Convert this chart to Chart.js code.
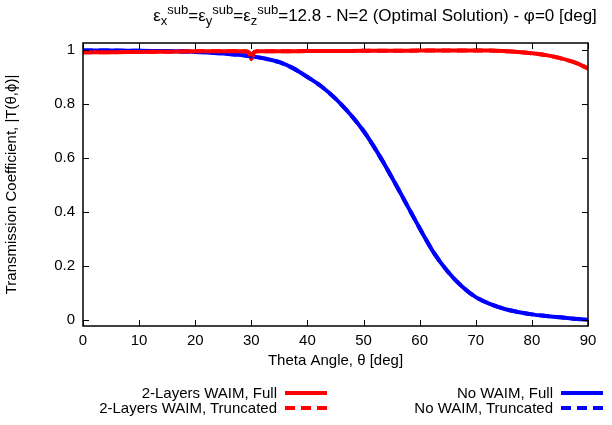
<!DOCTYPE html>
<html>
<head>
<meta charset="utf-8">
<script src="https://cdn.jsdelivr.net/npm/chart.js@4"></script>
<style>
    body { margin: 0; background: #fff; font-family: "Liberation Sans", Arial, sans-serif; }
    #wrap { position: relative; width: 612px; height: 425px; }
    #title { position: absolute; top: 2px; left: 0; width: 750px; text-align: center; font-size: 17px; color: #000; white-space: nowrap; }
    #title sub, #title sup { font-size: 13px; }
    .leg { position: absolute; font-size: 15px; color: #000; white-space: nowrap; text-align: right; }
</style>
</head>
<body>
<div id="wrap">
    <canvas id="chart" width="612" height="425"></canvas>
    <div id="title">&epsilon;<sub>x</sub><sup>sub</sup>=&epsilon;<sub>y</sub><sup>sub</sup>=&epsilon;<sub>z</sub><sup>sub</sup>=12.8 - N=2 (Optimal Solution) - &phi;=0 [deg]</div>
    <div id="legend"></div>
</div>
<script>
// theta values (deg) and |T|
const redTheta  = [0, 5, 10, 15, 20, 25, 29, 29.6, 30, 30.4, 31, 35, 40, 45, 50, 55, 60, 65, 70, 72.5, 75, 77.5, 80, 82.5, 85, 87.5, 90];
const redValues = [0.992, 0.992, 0.993, 0.994, 0.995, 0.995, 0.995, 0.99, 0.966, 0.99, 0.995, 0.995, 0.996, 0.996, 0.997, 0.997, 0.998, 0.998, 0.998, 0.998, 0.996, 0.993, 0.988, 0.981, 0.97, 0.955, 0.932];

const blueTheta  = [0, 5, 10, 15, 20, 25, 30, 32.5, 35, 37.5, 40, 42.5, 45, 47.5, 50, 52.5, 55, 57.5, 60, 62.5, 65, 67.5, 70, 72.5, 75, 77.5, 80, 82.5, 85, 87.5, 90];
const blueValues = [0.998, 0.998, 0.997, 0.996, 0.993, 0.987, 0.977, 0.968, 0.955, 0.932, 0.9, 0.865, 0.82, 0.765, 0.7, 0.62, 0.53, 0.435, 0.34, 0.25, 0.18, 0.125, 0.085, 0.06, 0.042, 0.03, 0.021, 0.015, 0.01, 0.005, 0.001];

const xTicks = [0, 10, 20, 30, 40, 50, 60, 70, 80, 90];
const yTicks = [0, 0.2, 0.4, 0.6, 0.8, 1];

const legendNames = ['2-Layers WAIM, Full', '2-Layers WAIM, Truncated', 'No WAIM, Full', 'No WAIM, Truncated'];

function toPoints(xs, ys) {
    return xs.map((x, i) => ({ x: x, y: ys[i] }));
}

// inward ticks on all four sides + frame, like gnuplot
const framePlugin = {
    id: 'frame',
    afterDatasetsDraw(chart) {
        const { ctx, chartArea: a, scales } = chart;
        ctx.save();
        ctx.strokeStyle = '#000';
        ctx.lineWidth = 1;
        ctx.beginPath();
        xTicks.forEach(v => {
            const px = Math.round(scales.x.getPixelForValue(v)) + 0.5;
            ctx.moveTo(px, a.bottom); ctx.lineTo(px, a.bottom - 6);
            ctx.moveTo(px, a.top); ctx.lineTo(px, a.top + 6);
        });
        yTicks.forEach(v => {
            const py = Math.round(scales.y.getPixelForValue(v)) + 0.5;
            ctx.moveTo(a.left, py); ctx.lineTo(a.left + 6, py);
            ctx.moveTo(a.right, py); ctx.lineTo(a.right - 6, py);
        });
        ctx.stroke();
        ctx.lineWidth = 1.5;
        ctx.strokeRect(a.left, a.top, a.right - a.left, a.bottom - a.top);
        ctx.restore();
    }
};

const ds = (label, xs, ys, color, dash) => ({
    label: label,
    data: toPoints(xs, ys),
    borderColor: color,
    borderWidth: 4,
    borderDash: dash,
    pointRadius: 0,
    fill: false,
    tension: 0.3
});

const axisFont = { family: 'Liberation Sans', size: 15 };

new Chart(document.getElementById('chart'), {
    type: 'line',
    data: {
        datasets: [
            ds(legendNames[1], redTheta, redValues, '#ff0000', [10, 6]),
            ds(legendNames[3], blueTheta, blueValues, '#0000ff', [10, 6]),
            ds(legendNames[0], redTheta, redValues, '#ff0000', []),
            ds(legendNames[2], blueTheta, blueValues, '#0000ff', [])
        ]
    },
    options: {
        responsive: false,
        animation: false,
        layout: { padding: { left: 0, right: 24, top: 43, bottom: 55 } },
        plugins: { legend: { display: false }, title: { display: false }, tooltip: { enabled: false } },
        scales: {
            x: {
                type: 'linear', min: 0, max: 90,
                afterBuildTicks: s => { s.ticks = xTicks.map(v => ({ value: v })); },
                afterFit: s => { s.height = 44; },
                grid: { display: false, drawTicks: false },
                border: { display: false },
                ticks: { color: '#000', font: axisFont, padding: 6, maxRotation: 0, callback: v => String(v) },
                title: { display: true, text: 'Theta Angle, \u03b8 [deg]', color: '#000', font: axisFont, padding: { top: 0, bottom: 0 } }
            },
            y: {
                type: 'linear', min: -0.022, max: 1.026,
                afterBuildTicks: s => { s.ticks = yTicks.map(v => ({ value: v })); },
                afterFit: s => { s.width = 83; },
                grid: { display: false, drawTicks: false },
                border: { display: false },
                ticks: { color: '#000', font: axisFont, padding: 8, callback: v => String(v) },
                title: { display: true, text: 'Transmission Coefficient, |T(\u03b8,\u03d5)|', color: '#000', font: axisFont, padding: { top: 3, bottom: 0 } }
            }
        }
    },
    plugins: [framePlugin]
});

// legend below the plot, text right-aligned before the line sample
const legendPos = [
    { right: 277, top: 384, color: '#ff0000', dash: '' },
    { right: 277, top: 399, color: '#ff0000', dash: '10,6' },
    { right: 553, top: 384, color: '#0000ff', dash: '' },
    { right: 553, top: 399, color: '#0000ff', dash: '10,6' }
];
const legendDiv = document.getElementById('legend');
legendPos.forEach((p, i) => {
    const el = document.createElement('div');
    el.className = 'leg';
    el.style.right = (612 - p.right) + 'px';
    el.style.top = p.top + 'px';
    el.textContent = legendNames[i];
    legendDiv.appendChild(el);
    const svg = document.createElementNS('http://www.w3.org/2000/svg', 'svg');
    svg.setAttribute('width', 44);
    svg.setAttribute('height', 8);
    svg.style.position = 'absolute';
    svg.style.left = (p.right + 8) + 'px';
    svg.style.top = (p.top + 5) + 'px';
    svg.innerHTML = '<line x1="0" y1="4" x2="42" y2="4" stroke="' + p.color + '" stroke-width="4"' + (p.dash ? ' stroke-dasharray="' + p.dash + '"' : '') + '/>';
    legendDiv.appendChild(svg);
});
</script>
</body>
</html>
